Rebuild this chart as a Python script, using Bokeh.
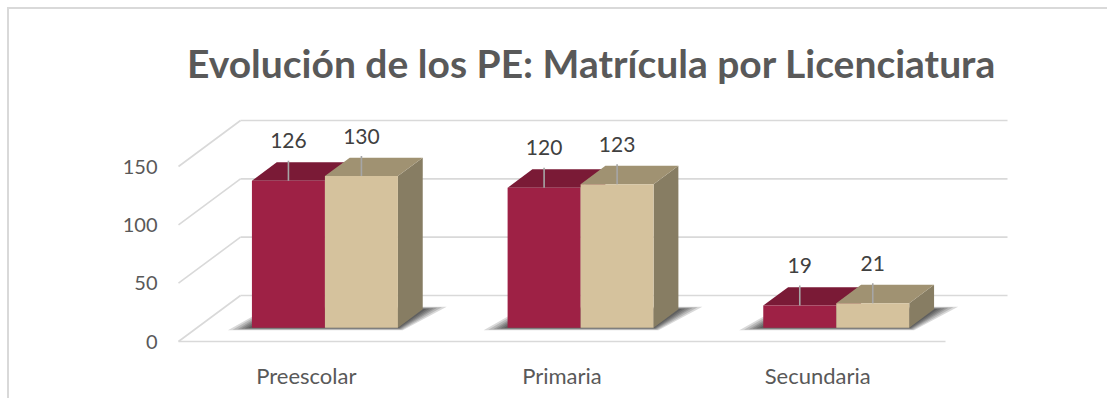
from bokeh.plotting import figure
from bokeh.models import Range1d, FixedTicker, Title
from bokeh.core.properties import value
from bokeh.embed import file_html
from bokeh.resources import INLINE

# ---- data ----
categories = ["Preescolar", "Primaria", "Secundaria"]
serie_1 = [126, 120, 19]
serie_2 = [130, 123, 21]
y_ticks = [0, 50, 100, 150]
title_text = "Evolución de los PE: Matrícula por Licenciatura"

# ---- geometry (category units on x, value units on y) ----
PX_PER_CAT = 767 / 3.0
PX_PER_VAL = 175 / 150.0
DX = 62 / PX_PER_CAT          # x shift for full depth
DY = 46 / PX_PER_VAL          # y shift for full depth
D0, D1 = 0.3, 0.7             # bar depth span
T = D1 - D0
BW = 73 / PX_PER_CAT          # bar width
YB = DY * D0                  # bar base

RED_FRONT, RED_TOP, RED_SIDE = "#9E2145", "#7A1A36", "#6A1630"
TAN_FRONT, TAN_TOP, TAN_SIDE = "#D5C29D", "#A09272", "#877D63"
GRID = "#D9D9D9"
FONT = "Lato"

# page position of the figure's top-left corner (inside margin + 2px border)
OX, OY = 9, 9
W, H = 1100, 391
FL, FR, FT, FB = 165, 1017, 98, 355   # frame edges in page pixels
ML, MR, MT, MB = FL - OX, OX + W - FR, FT - OY, OY + H - FB
x_start = (FL - 178) / PX_PER_CAT
x_end = (FR - 178) / PX_PER_CAT
y_top = (341 - FT) / PX_PER_VAL
y_bot = (341 - FB) / PX_PER_VAL

p = figure(width=W, height=H, output_backend="svg", toolbar_location=None,
           x_range=Range1d(x_start, x_end), y_range=Range1d(y_bot, y_top),
           min_border_left=ML, min_border_right=MR, min_border_top=MT,
           min_border_bottom=MB, tools="")
p.outline_line_color = None
p.grid.visible = False
p.background_fill_color = "white"
p.border_fill_color = "white"
p.styles = {"margin-left": "7px", "margin-top": "7px",
            "border-left": "2px solid #D9D9D9", "border-top": "2px solid #D9D9D9"}

p.title = Title(text=title_text, align="center", text_font=FONT,
                text_font_size="39px", text_font_style="bold",
                text_color="#595959", standoff=26)

# ---- walls / gridlines ----
n = len(categories)
gx, gy = [], []
gx.append([0, n]); gy.append([0, 0])
for v in y_ticks:
    gx.append([0, DX]); gy.append([v, v + DY])
    gx.append([DX, n + DX]); gy.append([v + DY, v + DY])
p.multi_line(gx, gy, line_color=GRID, line_width=1.6)

# ---- bars ----
def box(xl, v, front, top, side):
    xr = xl + BW
    yt = YB + v
    p.patch([xr, xr + T * DX, xr + T * DX, xr],
            [YB, YB + T * DY, yt + T * DY, yt], color=side, line_width=0)
    p.patch([xl, xr, xr + T * DX, xl + T * DX],
            [yt, yt, yt + T * DY, yt + T * DY], color=top, line_width=0)
    p.patch([xl, xr, xr, xl], [YB, YB, yt, yt], color=front, line_width=0)

for i, cat in enumerate(categories):
    c = i + 0.5 + DX * D0
    xl_red = c - BW
    xr_tan = c + BW
    # soft shadow on floor
    for e in [1.0, 0.8, 0.6, 0.45, 0.3, 0.15]:
        el = 24 * e / PX_PER_CAT
        er = 24 * e / PX_PER_CAT
        sy = 2.5 * e / PX_PER_VAL
        p.patch([xl_red - el, xr_tan + er * 0.2, xr_tan + T * DX + er, xl_red + T * DX - el * 0.3],
                [YB - sy, YB - sy, YB + T * DY + sy, YB + T * DY + sy],
                color="#000000", alpha=0.15, line_width=0)
    box(xl_red, serie_1[i], RED_FRONT, RED_TOP, RED_SIDE)
    box(c, serie_2[i], TAN_FRONT, TAN_TOP, TAN_SIDE)

# leader lines and labels
lx, ly, tx, ty, tt = [], [], [], [], []
for i in range(n):
    c = i + 0.5 + DX * D0
    for xc, v in [(c - BW / 2, serie_1[i]), (c + BW / 2, serie_2[i])]:
        lx.append([xc, xc])
        ly.append([YB + v, YB + v + 20 / PX_PER_VAL])
        tx.append(xc)
        ty.append(YB + v + 40 / PX_PER_VAL)
        tt.append(str(v))
p.multi_line(lx, ly, line_color="#A6A6A6", line_width=1.6)
p.text(tx, ty, text=tt, text_align="center", text_baseline="middle",
       text_font=value(FONT), text_font_size="21px", text_color="#404040")

# ---- axes ----
p.yaxis.ticker = FixedTicker(ticks=y_ticks)
p.yaxis.axis_line_color = None
p.yaxis.major_tick_line_color = None
p.yaxis.minor_tick_line_color = None
p.yaxis.major_tick_out = 0
p.yaxis.major_label_standoff = 8
p.yaxis.major_label_text_font = FONT
p.yaxis.major_label_text_font_size = "20px"
p.yaxis.major_label_text_color = "#595959"

centers = [i + 0.5 for i in range(n)]
p.xaxis.ticker = FixedTicker(ticks=centers)
p.xaxis.major_label_overrides = {c: cat for c, cat in zip(centers, categories)}
p.xaxis.axis_line_color = None
p.xaxis.major_tick_line_color = None
p.xaxis.minor_tick_line_color = None
p.xaxis.major_tick_out = 0
p.xaxis.major_label_standoff = 6
p.xaxis.major_label_text_font = FONT
p.xaxis.major_label_text_font_size = "22px"
p.xaxis.major_label_text_color = "#595959"

open("out.html", "w").write(file_html(p, INLINE))
